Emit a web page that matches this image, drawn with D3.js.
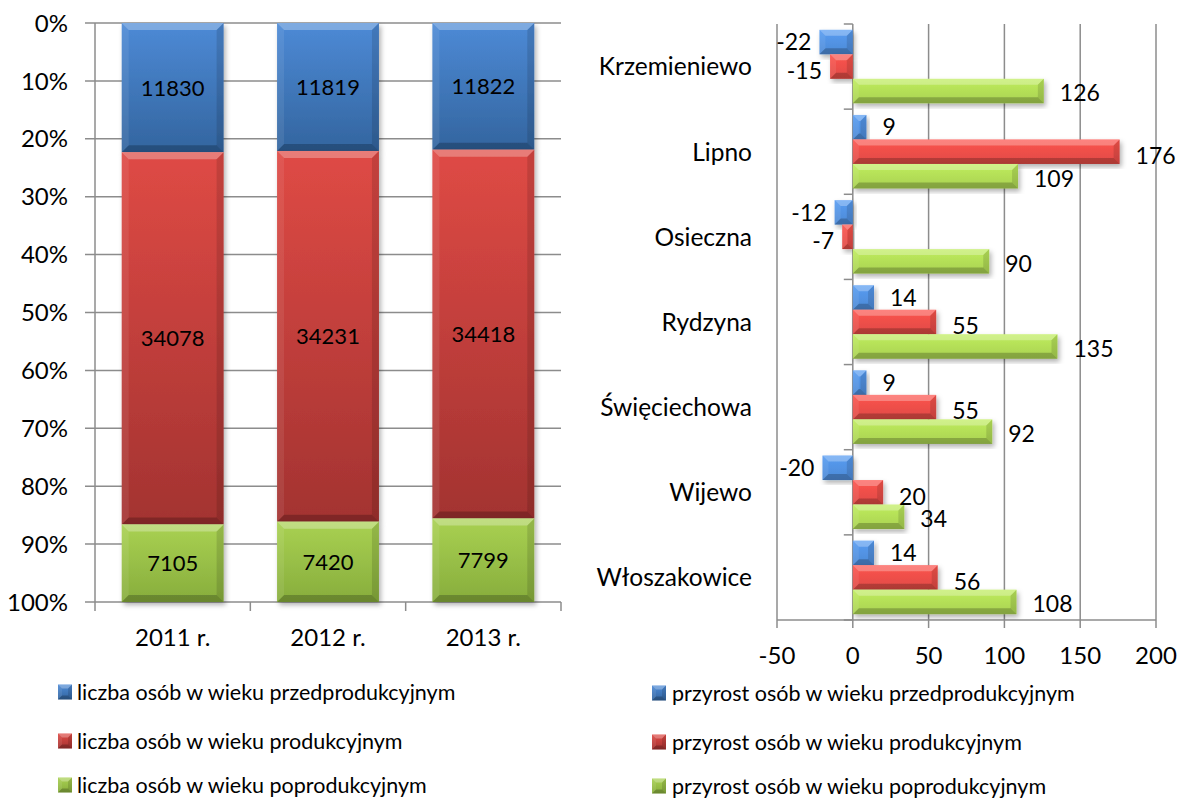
<!DOCTYPE html>
<html><head><meta charset="utf-8">
<script src="https://cdn.jsdelivr.net/npm/d3@7"></script>
<style>
html,body{margin:0;padding:0;background:#fff;}
svg{display:block;}
text{font-family:Lato,"Noto Sans",sans-serif;fill:#000;}
</style></head>
<body>
<svg id="c" width="1178" height="800"></svg>
<script>
// ---- data: left chart (100% stacked) ----
const years = ["2011 r.", "2012 r.", "2013 r."];
const przed = [11830, 11819, 11822];
const prod = [34078, 34231, 34418];
const poprod = [7105, 7420, 7799];
const pctTicks = [0, 0.1, 0.2, 0.3, 0.4, 0.5, 0.6, 0.7, 0.8, 0.9, 1];
const leftLegend = ["liczba osób w wieku przedprodukcyjnym", "liczba osób w wieku produkcyjnym", "liczba osób w wieku poprodukcyjnym"];

// ---- data: right chart (growth) ----
const gminy = ["Krzemieniewo", "Lipno", "Osieczna", "Rydzyna", "Święciechowa", "Wijewo", "Włoszakowice"];
const przyrostPrzed = [-22, 9, -12, 14, 9, -20, 14];
const przyrostProd = [-15, 176, -7, 55, 55, 20, 56];
const przyrostPoprod = [126, 109, 90, 135, 92, 34, 108];
const xTicks = [-50, 0, 50, 100, 150, 200];
const rightLegend = ["przyrost osób w wieku przedprodukcyjnym", "przyrost osób w wieku produkcyjnym", "przyrost osób w wieku poprodukcyjnym"];

const palette = [
  {top:"#4d8ad6", bot:"#33659f", name:"b"},
  {top:"#df4a45", bot:"#a33331", name:"r"},
  {top:"#a9d152", bot:"#87ad3c", name:"g"}
];

const svg = d3.select("#c");
const defs = svg.append("defs");
palette.forEach(p => {
  const gv = defs.append("linearGradient").attr("id","gv"+p.name).attr("x1",0).attr("y1",0).attr("x2",0).attr("y2",1);
  gv.append("stop").attr("offset","0%").attr("stop-color",p.top);
  gv.append("stop").attr("offset","100%").attr("stop-color",p.bot);
  const gh = defs.append("linearGradient").attr("id","gh"+p.name).attr("x1",0).attr("y1",0).attr("x2",0).attr("y2",1);
  gh.append("stop").attr("offset","0%").attr("stop-color",d3.color(p.top).brighter(0.35));
  gh.append("stop").attr("offset","100%").attr("stop-color",p.top);
});
const f = defs.append("filter").attr("id","sh").attr("x","-20%").attr("y","-20%").attr("width","140%").attr("height","140%");
f.append("feDropShadow").attr("dx",2).attr("dy",3).attr("stdDeviation",2.5).attr("flood-color","#000").attr("flood-opacity",0.3);

function bevelRect(g, x, y, w, h, fill, b, shadow) {
  const grp = g.append("g");
  if (shadow) grp.attr("filter","url(#sh)");
  grp.append("rect").attr("x",x).attr("y",y).attr("width",w).attr("height",h).attr("fill",fill);
  b = Math.min(b, w/2, h/2);
  const poly = (pts, col, op) => grp.append("polygon").attr("points", pts.map(p=>p.join(",")).join(" ")).attr("fill",col).attr("fill-opacity",op);
  poly([[x,y],[x+w,y],[x+w-b,y+b],[x+b,y+b]], "#fff", 0.28);
  poly([[x,y+h],[x+w,y+h],[x+w-b,y+h-b],[x+b,y+h-b]], "#000", 0.22);
  poly([[x,y],[x+b,y+b],[x+b,y+h-b],[x,y+h]], "#fff", 0.08);
  poly([[x+w,y],[x+w-b,y+b],[x+w-b,y+h-b],[x+w,y+h]], "#000", 0.12);
}

const gridCol = "#8c8c8c";
const FS = 22;      // data labels (left)
const FA = 24;      // axis labels
const FC = 24.5;    // category labels
const FR = 23;      // data labels (right)
const FL = 21.5;    // legend
const labelShift = [0, 4, 2];

// ================= LEFT CHART =================
const L = {x0:95, x1:561, y0:23, y1:602};
const gL = svg.append("g");
const xL = d3.scaleBand().domain(years).range([L.x0, L.x1]).paddingInner(0.344).paddingOuter(0.172);
const yL = d3.scaleLinear().domain([0,1]).range([L.y0, L.y1]);

gL.selectAll("line.grid").data(pctTicks).enter().append("line")
  .attr("x1",L.x0-10).attr("x2",L.x1).attr("y1",d=>yL(d)).attr("y2",d=>yL(d))
  .attr("stroke",gridCol).attr("stroke-width",1.5);
gL.append("line").attr("x1",L.x0).attr("x2",L.x0).attr("y1",L.y0).attr("y2",L.y1).attr("stroke",gridCol).attr("stroke-width",1.5);
const bounds = [L.x0].concat(years.map((d,i)=> L.x0 + (i+1)*xL.step()));
gL.selectAll("line.bt").data(bounds).enter().append("line")
  .attr("x1",d=>d).attr("x2",d=>d).attr("y1",L.y1).attr("y2",L.y1+9).attr("stroke",gridCol).attr("stroke-width",1.5);
gL.selectAll("text.yl").data(pctTicks).enter().append("text")
  .attr("x",68).attr("y",d=>yL(d)).attr("dy","0.36em").attr("text-anchor","end").attr("font-size",FA)
  .text(d=>d3.format(".0%")(d));
gL.selectAll("text.xl").data(years).enter().append("text")
  .attr("x",d=>xL(d)+xL.bandwidth()/2).attr("y",637).attr("dy","0.36em").attr("text-anchor","middle").attr("font-size",FA)
  .text(d=>d);
const stackData = years.map((y,i)=>({year:y, v:[przed[i], prod[i], poprod[i]]}));
stackData.forEach(d => {
  const tot = d3.sum(d.v);
  let cum = 0;
  d.v.forEach((v,k) => {
    const y0 = yL(cum/tot), y1 = yL((cum+v)/tot);
    cum += v;
    bevelRect(gL, xL(d.year), y0, xL.bandwidth(), y1-y0, "url(#gv"+palette[k].name+")", 7, true);
  });
});
stackData.forEach(d => {
  const tot = d3.sum(d.v);
  let cum = 0;
  d.v.forEach((v,k) => {
    const yc = yL((cum + v/2)/tot);
    cum += v;
    gL.append("text").attr("x",xL(d.year)+xL.bandwidth()/2).attr("y",yc).attr("dy","0.36em")
      .attr("text-anchor","middle").attr("font-size",FS).text(v);
  });
});

// ================= RIGHT CHART =================
const R = {x0:777, x1:1156, y0:24, y1:620};
const gR = svg.append("g");
const xR = d3.scaleLinear().domain([-50,200]).range([R.x0, R.x1]);
const yR = d3.scaleBand().domain(gminy).range([R.y0, R.y1]);
const series = [przyrostPrzed, przyrostProd, przyrostPoprod];
const yS = d3.scaleBand().domain([0,1,2]).range([0, yR.bandwidth()]).paddingOuter(0.237);

gR.selectAll("line.vg").data(xTicks.filter(d=>d!==0)).enter().append("line")
  .attr("x1",d=>xR(d)).attr("x2",d=>xR(d)).attr("y1",R.y0).attr("y2",R.y1)
  .attr("stroke",gridCol).attr("stroke-width",1.5);
gR.append("line").attr("x1",R.x0).attr("x2",R.x1).attr("y1",R.y1).attr("y2",R.y1).attr("stroke",gridCol).attr("stroke-width",1.5);
gR.selectAll("line.xt").data(xTicks).enter().append("line")
  .attr("x1",d=>xR(d)).attr("x2",d=>xR(d)).attr("y1",R.y1).attr("y2",R.y1+8).attr("stroke",gridCol).attr("stroke-width",1.5);
gR.selectAll("text.xtl").data(xTicks).enter().append("text")
  .attr("x",d=>xR(d)).attr("y",655).attr("dy","0.36em").attr("text-anchor","middle").attr("font-size",FA).text(d=>d);
gR.append("line").attr("x1",xR(0)).attr("x2",xR(0)).attr("y1",R.y0).attr("y2",R.y1).attr("stroke",gridCol).attr("stroke-width",1.5);
const cb = gminy.map(d=>yR(d)).concat([R.y1]);
gR.selectAll("line.ct").data(cb).enter().append("line")
  .attr("x1",xR(0)-9).attr("x2",xR(0)).attr("y1",d=>d).attr("y2",d=>d).attr("stroke",gridCol).attr("stroke-width",1.5);
gR.selectAll("text.cl").data(gminy).enter().append("text")
  .attr("x",752).attr("y",d=>yR(d)+yR.bandwidth()/2).attr("dy","0.36em").attr("text-anchor","end").attr("font-size",FC).text(d=>d);
gminy.forEach((g,i) => {
  series.forEach((s,k) => {
    const v = s[i];
    const y = yR(g) + yS(k);
    const x0 = xR(Math.min(0,v)), x1 = xR(Math.max(0,v));
    bevelRect(gR, x0, y, x1-x0, yS.bandwidth(), "url(#gh"+palette[k].name+")", 6, true);
  });
});
gminy.forEach((g,i) => {
  series.forEach((s,k) => {
    const v = s[i];
    const yc = yR(g) + yS(k) + yS.bandwidth()/2 + labelShift[k];
    gR.append("text").attr("x", v>=0 ? xR(v)+16 : xR(v)-8).attr("y",yc).attr("dy","0.36em")
      .attr("text-anchor", v>=0 ? "start" : "end").attr("font-size",FR).text(v);
  });
});

// ================= LEGENDS =================
const legRows = [692, 741, 785];
function legend(labels, mx, tx, dy) {
  labels.forEach((t,k) => {
    const y = legRows[k] + dy;
    bevelRect(svg, mx, y-7.5, 14, 15, "url(#gv"+palette[k].name+")", 4, false);
    svg.append("text").attr("x",tx).attr("y",y).attr("dy","0.36em").attr("font-size",FL).text(t);
  });
}
legend(leftLegend, 58, 77, 0);
legend(rightLegend, 652, 672, 1);
</script>
</body></html>
